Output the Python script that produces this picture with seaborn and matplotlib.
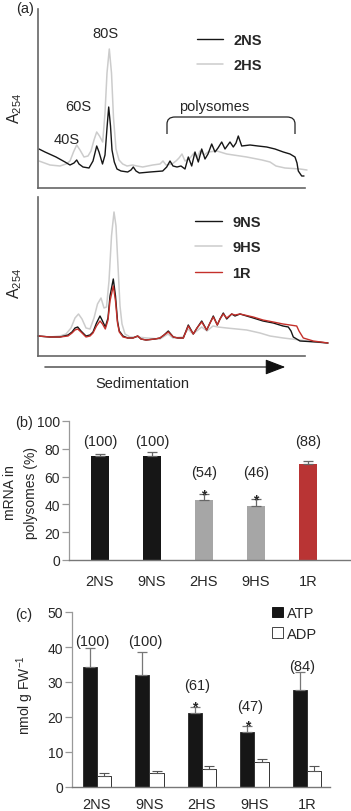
import numpy as np
import pandas as pd
import matplotlib
matplotlib.use("Agg")
import matplotlib.pyplot as plt
import seaborn as sns
from matplotlib.path import Path
from matplotlib.patches import PathPatch, Patch
from matplotlib.lines import Line2D

# ---------------- data ----------------
# (a) polysome profiles: sedimentation position (arbitrary units) and A254 (arbitrary units)
ns2_x = [39, 45, 56, 65, 70, 74, 76.7, 79, 83, 89, 93, 96.7, 99, 102.5, 105, 107, 108.7, 110.5, 112, 114.3,
         117, 121, 127.7, 131, 133.3, 136, 139.3, 150, 162.7, 166.7, 170, 173, 177, 181, 185, 188.3, 191.7,
         195, 198.3, 201.7, 205, 208, 211.7, 215, 218, 221.7, 225, 230, 233.3, 236, 238.3, 241.7, 250, 258,
         266.7, 275, 283.3, 290, 295, 297, 298.3, 301.7, 304]
ns2_a = [39, 36, 31, 26, 23, 25, 28, 24, 21, 20, 27, 42, 36, 24, 33, 60, 81, 62, 38, 26,
         19, 17, 16, 18, 21, 17, 15, 16, 17, 21, 27, 22, 21, 22, 19, 31, 22,
         36, 26, 39, 29, 34, 44, 36, 40, 46, 39, 46, 41, 45, 52, 42, 43, 42,
         41, 39, 36, 34, 31, 25, 17, 12, 12]
hs2_x = [39, 50, 60, 66, 70, 73.5, 76.7, 80, 84, 88, 91, 94, 96.7, 99.5, 102.7, 105, 107, 109.3, 111.5, 113.5,
         116, 119, 122.7, 127, 132.7, 137, 142.7, 152.7, 160, 163, 166, 172, 176, 179, 182, 185, 190, 194,
         197, 200, 204, 208, 217, 226.7, 246.7, 262, 270, 276, 285, 300, 307]
hs2_a = [27, 23, 22, 24, 27, 36, 43, 38, 31, 32, 37, 48, 56, 52, 46, 75, 115, 139, 115, 70,
         39, 28, 24, 22, 23, 22, 21, 23, 24, 27, 23, 24, 27, 30, 34, 27, 30, 35,
         30, 37, 33, 36, 37, 34, 31, 28, 26, 22, 20, 19, 18]
ns9_x = [38, 50, 60, 68, 72, 75, 77.7, 81, 86, 90, 93, 96.5, 100, 102.5, 105.3, 108, 110, 113.3, 115.5, 117.5,
         119.3, 123, 127.7, 133, 137.7, 141, 146, 155, 160, 164, 168.3, 173.3, 178, 183.3, 188.3, 193.3, 197,
         201.7, 206.7, 210, 213.3, 217.3, 220, 223.3, 226.7, 231.7, 235, 240, 253.3, 263, 273.3, 283, 288.3,
         291, 293.3, 300, 316.7, 328]
ns9_a = [20, 19, 19, 21, 24, 28, 29, 25, 20, 21, 24, 33, 40, 35, 29, 38, 60, 77, 60, 35,
         25, 20, 18, 18, 20, 17, 16, 17, 18, 21, 25, 19, 18, 18, 31, 22, 28,
         35, 26, 33, 40, 31, 37, 43, 37, 42, 40, 42, 38, 35, 33, 30, 29,
         25, 19, 15, 14, 13]
hs9_x = [38, 50, 60, 66, 71, 75, 78.5, 82, 86, 90, 94, 97.5, 101, 104, 106.5, 109, 111.5, 114, 116, 118,
         120, 122, 125, 130, 137, 147, 160, 168, 173, 183, 188, 193, 201.7, 207, 213, 218, 226.7, 246.7,
         260, 270, 283.3, 300, 315, 326.7]
hs9_a = [20, 19, 20, 22, 28, 38, 42, 37, 28, 27, 38, 52, 58, 48, 49, 75, 120, 144, 130, 90,
         50, 32, 22, 19, 19, 18, 17, 22, 18, 19, 27, 22, 29, 25, 30, 29, 28, 26,
         23, 20, 18, 16, 14, 13]
r1_x = [38, 50, 60, 68, 72, 75, 77.7, 81, 86, 90, 93, 96.5, 100, 102.5, 105.3, 108, 110, 113.3, 115.5, 117.5,
        119.3, 123, 127.7, 133, 137.7, 141, 146, 155, 160, 164, 168.3, 173.3, 178, 183.3, 188.3, 193.3, 197,
        201.7, 206.7, 210, 213.3, 217.3, 220, 223.3, 226.7, 231.7, 235, 240, 253.3, 263, 273.3, 283, 290,
        296.7, 299, 303.3, 313.3, 328]
r1_a = [20, 19, 19, 20, 23, 26, 27, 24, 19, 20, 23, 30, 35, 32, 27, 36, 55, 70, 55, 33,
        24, 19, 18, 18, 20, 17, 16, 17, 18, 21, 24, 19, 18, 18, 30, 22, 28,
        34, 26, 33, 39, 31, 37, 42, 38, 42, 41, 42, 39, 36, 34, 32, 31,
        30, 25, 18, 15, 13]

# (b) mRNA in polysomes (%)
samples = ["2NS", "9NS", "2HS", "9HS", "1R"]
polysome_mrna = [75, 75, 43.5, 39, 69]
polysome_err = [1, 2.5, 4, 5, 2.5]
polysome_rel = ["(100)", "(100)", "(54)", "(46)", "(88)"]
polysome_sig = [False, False, True, True, False]

# (c) adenylates (nmol g FW-1)
atp = [34.2, 32, 21.2, 15.6, 27.7]
atp_err = [5.4, 6.6, 1.8, 1.7, 5.1]
adp = [3.2, 4.0, 5.2, 7.2, 4.7]
adp_err = [0.8, 0.7, 0.9, 0.8, 1.4]
atp_rel = ["(100)", "(100)", "(61)", "(47)", "(84)"]
atp_sig = [False, False, True, True, False]

# ---------------- style ----------------
sns.set_theme(style="white")
plt.rcParams["font.family"] = ["Liberation Sans", "DejaVu Sans"]
plt.rcParams["mathtext.fontset"] = "custom"
plt.rcParams["mathtext.rm"] = "Liberation Sans"
plt.rcParams["mathtext.it"] = "Liberation Sans:italic"
plt.rcParams["mathtext.bf"] = "Liberation Sans:bold"

W, H = 351, 812
fig = plt.figure(figsize=(W / 100, H / 100), dpi=100)
fig.patch.set_facecolor("white")


def rect(x0, y0, x1, y1):
    return [x0 / W, 1 - y1 / H, (x1 - x0) / W, (y1 - y0) / H]


BLACK = "#161616"
LGRAY = "#cccccc"
RED = "#c4302b"
SPINE = "#666666"
FS = 10.5

# ---------------- (a) top profile ----------------
ax1 = fig.add_axes(rect(38, 10, 305, 189))
sns.lineplot(x=hs2_x, y=hs2_a, color=LGRAY, lw=1.1, sort=False, estimator=None,
             label="2HS", ax=ax1, clip_on=False)
sns.lineplot(x=ns2_x, y=ns2_a, color=BLACK, lw=1.0, sort=False, estimator=None,
             label="2NS", ax=ax1, clip_on=False)
ax1.set_xlim(38, 305)
ax1.set_ylim(0, 179)

ax2 = fig.add_axes(rect(38, 198, 305, 357))
sns.lineplot(x=hs9_x, y=hs9_a, color=LGRAY, lw=1.1, sort=False, estimator=None,
             label="9HS", ax=ax2, clip_on=False)
sns.lineplot(x=ns9_x, y=ns9_a, color=BLACK, lw=1.0, sort=False, estimator=None,
             label="9NS", ax=ax2, clip_on=False)
sns.lineplot(x=r1_x, y=r1_a, color=RED, lw=1.0, sort=False, estimator=None,
             label="1R", ax=ax2, clip_on=False)
ax2.set_xlim(38, 305)
ax2.set_ylim(0, 159)

for ax in (ax1, ax2):
    ax.set_xticks([])
    ax.set_yticks([])
    ax.set_xlabel("")
    ax.set_ylabel("")
    for s in ("top", "right"):
        ax.spines[s].set_visible(False)
    for s in ("left", "bottom"):
        ax.spines[s].set_color(SPINE)
        ax.spines[s].set_linewidth(1.2)
    ax.patch.set_alpha(0)

# legends
h1, l1 = ax1.get_legend_handles_labels()
order1 = [l1.index("2NS"), l1.index("2HS")]
ax1.legend([h1[i] for i in order1], [l1[i] for i in order1], loc="center left",
           bbox_to_anchor=(197 / W, 1 - 53.5 / H), bbox_transform=fig.transFigure,
           frameon=False, borderpad=0, borderaxespad=0, handlelength=1.78,
           handletextpad=0.69, labelspacing=0.8, prop={"weight": "bold", "size": FS})
h2, l2 = ax2.get_legend_handles_labels()
order2 = [l2.index("9NS"), l2.index("9HS"), l2.index("1R")]
ax2.legend([h2[i] for i in order2], [l2[i] for i in order2], loc="center left",
           bbox_to_anchor=(195 / W, 1 - 248.5 / H), bbox_transform=fig.transFigure,
           frameon=False, borderpad=0, borderaxespad=0, handlelength=1.85,
           handletextpad=0.69, labelspacing=0.8, prop={"weight": "bold", "size": FS})

# peak labels
ax1.text(105, 155, "80S", ha="center", va="center", fontsize=FS)
ax1.text(78, 82, "60S", ha="center", va="center", fontsize=FS)
ax1.text(67, 49, "40S", ha="center", va="center", fontsize=FS)
ax1.text(214, 82, "polysomes", ha="center", va="center", fontsize=FS)
verts = [(167, 54), (167, 64), (167, 71), (175, 71), (287, 71), (295, 71), (295, 64), (295, 54)]
codes = [Path.MOVETO, Path.LINETO, Path.CURVE3, Path.CURVE3, Path.LINETO, Path.CURVE3, Path.CURVE3, Path.LINETO]
ax1.add_patch(PathPatch(Path(verts, codes), fill=False, lw=0.9, ec="#222222", clip_on=False))

fig.text(15 / W, 1 - 108 / H, "A$_{254}$", rotation=90, ha="center", va="center", fontsize=11.5)
fig.text(15 / W, 1 - 283 / H, "A$_{254}$", rotation=90, ha="center", va="center", fontsize=11.5)

# sedimentation arrow
fig.patches.append(matplotlib.patches.FancyArrowPatch(
    (42, H - 368), (288, H - 368), transform=None, arrowstyle="-|>,head_length=1.25,head_width=0.48",
    mutation_scale=10, lw=0.8, color="#111111"))
fig.text(142 / W, 1 - 384 / H, "Sedimentation", ha="center", va="center", fontsize=FS)

# ---------------- (b) ----------------
ax3 = fig.add_axes(rect(69, 422, 351, 561))
bar_colors = [BLACK, BLACK, "#a6a6a6", "#a6a6a6", "#b93434"]
sns.barplot(x=samples, y=polysome_mrna, hue=samples, palette=bar_colors, width=0.35,
            saturation=1, legend=False, ax=ax3, errorbar=None, linewidth=0)
for p, e, rel, sig, ry in zip(ax3.patches, polysome_err, polysome_rel, polysome_sig,
                              [85.6, 85.6, 63.3, 63.3, 85.6]):
    cx = p.get_x() + p.get_width() / 2
    top = p.get_height()
    ax3.errorbar(cx, top, yerr=[[0], [e]], fmt="none", ecolor="#666666", elinewidth=0.9,
                 capsize=3.5, capthick=0.9)
    ax3.text(cx, ry, rel, ha="center", va="center", fontsize=FS)
    if sig:
        ax3.text(cx, top + e - 3.2, "*", ha="center", va="baseline", fontsize=10, fontweight="bold")
ax3.set_ylim(0, 100)
ax3.set_xlim(-0.596, 4.83)
ax3.set_yticks([0, 20, 40, 60, 80, 100])
ax3.set_xlabel("")
ax3.set_ylabel("")

# ---------------- (c) ----------------
ax4 = fig.add_axes(rect(72, 613, 330, 788))
df = pd.DataFrame({
    "sample": samples * 2,
    "metabolite": ["ATP"] * len(samples) + ["ADP"] * len(samples),
    "value": atp + adp,
})
sns.barplot(data=df, x="sample", y="value", hue="metabolite", hue_order=["ATP", "ADP"],
            palette={"ATP": BLACK, "ADP": "white"}, width=0.54, saturation=1, errorbar=None,
            legend=False, ax=ax4, edgecolor="#333333", linewidth=0.7)
atp_bars, adp_bars = ax4.containers[0], ax4.containers[1]
for p, e, rel, sig, ry in zip(atp_bars, atp_err, atp_rel, atp_sig, [41.7, 41.7, 29.1, 23.1, 34.6]):
    cx = p.get_x() + p.get_width() / 2
    top = p.get_height()
    ax4.errorbar(cx, top, yerr=[[0], [e]], fmt="none", ecolor="#777777", elinewidth=0.9,
                 capsize=3.5, capthick=0.9)
    ax4.text(cx + 0.05, ry, rel, ha="center", va="center", fontsize=FS)
    if sig:
        ax4.text(cx, top + e - 1.0, "*", ha="center", va="baseline", fontsize=10, fontweight="bold")
for p, e in zip(adp_bars, adp_err):
    cx = p.get_x() + p.get_width() / 2
    ax4.errorbar(cx, p.get_height(), yerr=[[0], [e]], fmt="none", ecolor="#555555",
                 elinewidth=0.8, capsize=3.5, capthick=0.8)
ax4.set_ylim(0, 50)
ax4.set_xlim(-0.476, 4.44)
ax4.set_yticks([0, 10, 20, 30, 40, 50])
ax4.set_xlabel("")
ax4.set_ylabel("")
ax4.legend(handles=[Patch(fc=BLACK, ec=BLACK, lw=0.7), Patch(fc="white", ec="#444444", lw=0.7)],
           labels=["ATP", "ADP"], loc="upper left", bbox_to_anchor=(272 / W, 1 - 607 / H),
           bbox_transform=fig.transFigure, frameon=False, borderpad=0, borderaxespad=0,
           handlelength=0.75, handleheight=0.75, handletextpad=0.3, labelspacing=0.45,
           fontsize=FS)

for ax in (ax3, ax4):
    for s in ("top", "right"):
        ax.spines[s].set_visible(False)
    ax.spines["left"].set_color("#999999")
    ax.spines["left"].set_linewidth(0.9)
    ax.spines["bottom"].set_color("#777777")
    ax.spines["bottom"].set_linewidth(1.0)
    ax.tick_params(axis="y", length=5, width=0.9, color="#999999", labelsize=10, pad=1.5,
                   left=True)
    ax.tick_params(axis="x", length=0, labelsize=FS, pad=10, bottom=False)
    ax.patch.set_alpha(0)
ax4.tick_params(axis="x", pad=7)

fig.text(10 / W, 1 - 493 / H, "mRNA in", rotation=90, ha="center", va="center", fontsize=10)
fig.text(31 / W, 1 - 493 / H, "polysomes (%)", rotation=90, ha="center", va="center", fontsize=10)
fig.text(25 / W, 1 - 695 / H, "nmol g FW$^{-1}$", rotation=90, ha="center", va="center", fontsize=10)

fig.text(25 / W, 1 - 9 / H, "(a)", ha="center", va="center", fontsize=FS)
fig.text(24 / W, 1 - 423 / H, "(b)", ha="center", va="center", fontsize=FS)
fig.text(24 / W, 1 - 615 / H, "(c)", ha="center", va="center", fontsize=FS)

fig.savefig("out.png", dpi=100)
